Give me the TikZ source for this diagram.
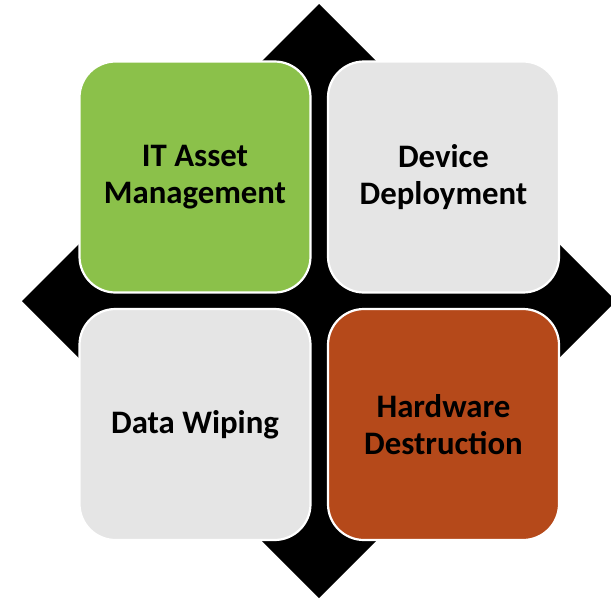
\documentclass[tikz,border=0pt]{standalone}
\usepackage{fontspec}
\setmainfont{Carlito}
\definecolor{tgreen}{RGB}{139,193,74}
\definecolor{tgray}{RGB}{229,229,229}
\definecolor{torange}{RGB}{181,73,26}
\tikzset{
  tile/.style={draw=white, line width=2.2pt, rounded corners=36pt,
    minimum width=231pt, minimum height=231pt, inner sep=0pt,
    align=center, text=black,
    font=\fontsize{32.8}{37.5}\selectfont\bfseries}
}
\begin{document}
\begin{tikzpicture}[x=1pt,y=-1pt]
\useasboundingbox (0,0) rectangle (611,600);
\clip (0,0) rectangle (611,600);
\fill[black] (319,4) -- (616,301) -- (319,598) -- (22,301) -- cycle;
\node[tile, fill=tgreen] (itam) at (195,177) {IT Asset\\Management};
\node[tile, fill=tgray] (dep) at (443.5,177) {Device\\Deployment};
\node[tile, fill=tgray] (wipe) at (195,424.5) {\raisebox{-2pt}{Data Wiping}};
\node[tile, fill=torange] (hw) at (443.5,424.5) {Hardware\\Destruction};
\end{tikzpicture}
\end{document}
